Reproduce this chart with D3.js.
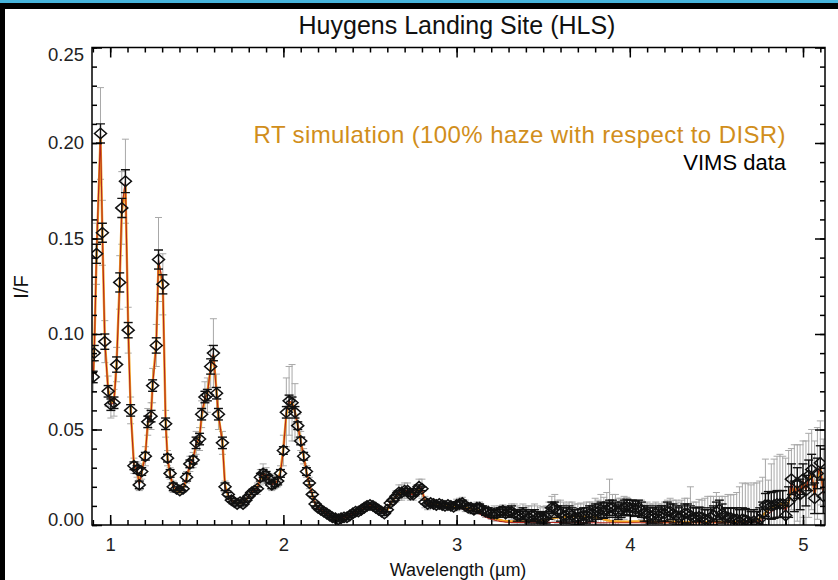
<!DOCTYPE html>
<html><head><meta charset="utf-8">
<script src="https://cdn.jsdelivr.net/npm/d3@7"></script>
<style>body{margin:0;background:#fff}svg{display:block}</style>
</head><body>
<svg id="chart" width="838" height="580"></svg>
<script>
// ---------------- DATA ----------------
const wavelength = [
0.902,0.908,0.921,0.944,0.955,0.969,0.988,1.004,1.022,1.037,
1.055,1.067,1.088,1.104,1.118,1.137,1.155,1.168,1.182,1.203,
1.217,1.236,1.245,1.266,1.279,1.304,1.320,1.331,1.346,1.364,
1.383,1.402,1.421,1.441,1.460,1.479,1.496,1.516,1.528,1.547,
1.561,1.580,1.596,1.614,1.625,1.648,1.663,1.682,
1.700,1.717,1.733,1.750,1.767,1.783,
1.800,1.817,1.833,1.850,1.867,1.883,
1.900,1.917,1.933,1.950,1.967,1.983,
2.000,2.017,2.033,2.050,2.067,2.083,
2.100,2.117,2.133,2.150,2.167,2.183,
2.200,2.217,2.233,2.250,2.267,2.283,
2.300,2.317,2.333,2.350,2.367,2.383,
2.400,2.417,2.433,2.450,2.467,2.483,
2.500,2.517,2.533,2.550,2.567,2.583,
2.600,2.617,2.633,2.650,2.667,2.683,
2.700,2.717,2.733,2.750,2.767,2.783,
2.800,2.817,2.833,2.850,2.867,2.883,
2.900,2.917,2.933,2.950,2.967,2.983,
3.000,3.017,3.033,3.050,3.067,3.083,
3.100,3.117,3.133,3.150,3.167,3.183,
3.200,3.217,3.233,3.250,3.267,3.283,
3.300,3.317,3.333,3.350,3.367,3.383,
3.400,3.417,3.433,3.450,3.467,3.483,
3.500,3.517,3.533,3.550,3.567,3.583,
3.600,3.617,3.633,3.650,3.667,3.683,
3.700,3.717,3.733,3.750,3.767,3.783,
3.800,3.817,3.833,3.850,3.867,3.883,
3.900,3.917,3.933,3.950,3.967,3.983,
4.000,4.017,4.033,4.050,4.067,4.083,
4.100,4.117,4.133,4.150,4.167,4.183,
4.200,4.217,4.233,4.250,4.267,4.283,
4.300,4.317,4.333,4.350,4.367,4.383,
4.400,4.417,4.433,4.450,4.467,4.483,
4.500,4.517,4.533,4.550,4.567,4.583,
4.600,4.617,4.633,4.650,4.667,4.683,
4.700,4.717,4.733,4.750,4.767,4.783,
4.800,4.817,4.833,4.850,4.867,4.883,
4.900,4.917,4.933,4.950,4.967,4.983,
5.000,5.017,5.033,5.050,5.067,5.083,
5.100,5.117
];

const vims = [
0.0775,0.090,0.142,0.205,0.153,0.096,0.070,0.063,0.064,0.084,
0.127,0.166,0.180,0.102,0.060,0.031,0.029,0.021,0.028,0.036,
0.054,0.057,0.073,0.094,0.139,0.126,0.053,0.035,0.027,0.020,
0.019,0.018,0.019,0.025,0.032,0.034,0.043,0.045,0.058,0.067,
0.068,0.083,0.090,0.069,0.058,0.043,0.020,0.016,
0.013,0.012,0.011,0.012,0.011,0.013,
0.015,0.017,0.018,0.019,0.025,0.027,
0.026,0.024,0.021,0.022,0.023,0.027,
0.039,0.059,0.065,0.064,0.059,0.052,
0.044,0.036,0.028,0.022,0.016,0.011,
0.009,0.008,0.007,0.006,0.005,0.004,
0.0035,0.003,0.0035,0.004,0.004,0.005,
0.006,0.007,0.007,0.008,0.009,0.010,
0.0105,0.010,0.009,0.008,0.007,0.006,
0.008,0.0115,0.013,0.015,0.017,0.017,
0.018,0.018,0.016,0.016,0.018,0.020,
0.019,0.012,0.011,0.0115,0.011,0.0105,
0.011,0.0105,0.010,0.0105,0.010,0.0095,
0.0105,0.011,0.0115,0.010,0.009,0.009,
0.008,0.009,0.009,0.008,0.007,0.007,
0.006,0.006,0.006,0.007,0.0075,0.006,
0.007,0.007,0.006,0.005,0.005,0.006,
0.005,0.004,0.005,0.005,0.004,0.004,
0.0037,0.004,0.006,0.009,0.009,0.007,
0.006,0.005,0.005,0.006,0.005,0.004,
0.004,0.0045,0.005,0.005,0.006,0.006,
0.007,0.007,0.008,0.0075,0.008,0.009,
0.009,0.008,0.007,0.008,0.009,0.0095,
0.009,0.009,0.0085,0.009,0.008,0.006,
0.006,0.005,0.005,0.006,0.005,0.006,
0.006,0.007,0.007,0.006,0.005,0.004,
0.005,0.006,0.006,0.005,0.004,0.004,
0.0044,0.004,0.003,0.003,0.004,0.005,
0.007,0.008,0.006,0.004,0.004,0.0037,
0.003,0.003,0.002,0.003,0.0026,0.002,
0.001,0.002,0.001,0.003,0.006,0.0105,
0.0105,0.010,0.0105,0.011,0.011,0.011,
0.005,0.012,0.024,0.015,0.022,0.016,
0.024,0.018,0.026,0.029,0.014,0.027,
0.0325,0.015
];

// large (grey) uncertainty of VIMS data
const errGray = [
0.008,0.010,0.016,0.024,0.017,0.011,0.008,0.007,0.007,0.009,
0.014,0.019,0.022,0.012,0.007,0.004,0.004,0.003,0.004,0.005,
0.007,0.007,0.009,0.011,0.022,0.016,0.007,0.004,0.003,0.003,
0.002,0.002,0.002,0.003,0.004,0.004,0.006,0.006,0.007,0.008,
0.009,0.011,0.018,0.010,0.008,0.006,0.003,0.002,
0.002,0.002,0.002,0.002,0.002,0.002,
0.002,0.002,0.002,0.003,0.004,0.005,
0.004,0.003,0.003,0.003,0.003,0.004,
0.008,0.018,0.018,0.020,0.015,0.006,
0.005,0.004,0.003,0.003,0.002,0.002,
0.002,0.002,0.002,0.002,0.002,0.002,
0.002,0.002,0.002,0.002,0.002,0.002,
0.002,0.002,0.002,0.002,0.002,0.002,
0.002,0.002,0.002,0.002,0.002,0.002,
0.002,0.002,0.002,0.003,0.004,0.004,
0.004,0.004,0.003,0.003,0.003,0.004,
0.005,0.003,0.003,0.002,0.002,0.002,
0.002,0.002,0.002,0.002,0.002,0.002,
0.003,0.003,0.003,0.003,0.002,0.002,
0.002,0.003,0.003,0.002,0.003,0.002,
0.003,0.004,0.003,0.003,0.003,0.004,
0.003,0.004,0.005,0.005,0.004,0.005,
0.005,0.006,0.005,0.006,0.006,0.005,
0.006,0.006,0.006,0.006,0.007,0.006,
0.007,0.007,0.006,0.006,0.007,0.007,
0.007,0.007,0.006,0.007,0.006,0.006,
0.007,0.006,0.008,0.007,0.009,0.015,
0.007,0.008,0.007,0.006,0.006,0.005,
0.004,0.004,0.004,0.003,0.005,0.005,
0.006,0.006,0.006,0.006,0.006,0.005,
0.006,0.006,0.007,0.007,0.008,0.008,
0.008,0.008,0.008,0.015,0.008,0.008,
0.009,0.009,0.011,0.012,0.011,0.010,
0.010,0.007,0.009,0.011,0.012,0.012,
0.013,0.014,0.018,0.019,0.019,0.020,
0.020,0.020,0.021,0.020,0.019,0.024,
0.013,0.022,0.024,0.025,0.026,0.025,
0.030,0.027,0.016,0.027,0.020,0.026,
0.020,0.026,0.022,0.021,0.030,0.024,
0.022,0.030
];

// small (black) uncertainty of VIMS data
const errBlack = [
0.003,0.004,0.005,0.005,0.005,0.004,0.003,0.003,0.003,0.004,
0.005,0.005,0.006,0.004,0.003,0.002,0.002,0.002,0.002,0.002,
0.003,0.003,0.003,0.004,0.005,0.005,0.003,0.002,0.002,0.002,
0.001,0.001,0.001,0.002,0.002,0.002,0.003,0.003,0.003,0.003,
0.003,0.004,0.004,0.003,0.003,0.003,0.002,0.001,
0.001,0.001,0.001,0.001,0.001,0.001,
0.001,0.001,0.001,0.001,0.002,0.002,
0.002,0.002,0.002,0.002,0.002,0.002,
0.002,0.003,0.003,0.003,0.003,0.002,
0.002,0.002,0.002,0.001,0.001,0.001,
0.001,0.001,0.001,0.001,0.001,0.001,
0.001,0.001,0.001,0.001,0.001,0.001,
0.001,0.001,0.001,0.001,0.001,0.001,
0.001,0.001,0.001,0.001,0.001,0.001,
0.001,0.001,0.001,0.001,0.001,0.001,
0.001,0.001,0.001,0.001,0.001,0.001,
0.001,0.001,0.001,0.001,0.001,0.001,
0.001,0.001,0.001,0.001,0.001,0.001,
0.0015,0.0015,0.0015,0.0015,0.0015,0.0015,
0.002,0.002,0.002,0.002,0.002,0.002,
0.002,0.002,0.002,0.002,0.002,0.002,
0.002,0.003,0.002,0.003,0.002,0.003,
0.003,0.003,0.003,0.003,0.003,0.003,
0.003,0.003,0.003,0.003,0.003,0.003,
0.004,0.004,0.004,0.004,0.004,0.004,
0.004,0.004,0.004,0.004,0.004,0.004,
0.004,0.004,0.004,0.004,0.004,0.004,
0.004,0.004,0.004,0.004,0.004,0.004,
0.004,0.004,0.004,0.004,0.004,0.004,
0.004,0.004,0.004,0.004,0.004,0.004,
0.004,0.005,0.004,0.005,0.005,0.005,
0.005,0.005,0.005,0.005,0.005,0.005,
0.005,0.005,0.005,0.005,0.005,0.005,
0.005,0.005,0.005,0.005,0.005,0.005,
0.006,0.006,0.006,0.006,0.006,0.006,
0.006,0.006,0.006,0.006,0.006,0.006,
0.007,0.007,0.007,0.007,0.007,0.007,
0.008,0.008,0.008,0.008,0.008,0.008,
0.008,0.008,0.008,0.008,0.008,0.008,
0.009,0.009
];

// RT simulation (100% haze with respect to DISR) - orange
const simRT = [
0.079,0.092,0.140,0.203,0.152,0.097,0.071,0.064,0.065,0.085,
0.128,0.164,0.178,0.104,0.061,0.032,0.028,0.022,0.028,0.037,
0.053,0.058,0.074,0.095,0.137,0.125,0.055,0.035,0.026,0.020,
0.018,0.017,0.019,0.024,0.031,0.035,0.042,0.046,0.057,0.066,
0.069,0.082,0.089,0.070,0.057,0.044,0.021,0.015,
0.013,0.012,0.0115,0.0115,0.0115,0.013,
0.015,0.017,0.018,0.020,0.024,0.027,
0.026,0.024,0.022,0.022,0.023,0.028,
0.040,0.058,0.064,0.064,0.059,0.052,
0.044,0.036,0.028,0.021,0.016,0.011,
0.009,0.008,0.007,0.006,0.005,0.004,
0.0035,0.0032,0.0034,0.0038,0.0042,0.0048,
0.0058,0.0066,0.0072,0.008,0.0088,0.0098,
0.0102,0.0098,0.009,0.008,0.007,0.0063,
0.0078,0.011,0.013,0.015,0.0165,0.017,
0.0175,0.0175,0.0165,0.016,0.0175,0.0195,
0.0185,0.0125,0.011,0.011,0.011,0.0105,
0.0105,0.0103,0.0101,0.0099,0.0097,0.0096,
0.0095,0.0093,0.0091,0.0089,0.0087,0.0086,
0.0085,0.0080,0.0072,0.0062,0.0053,0.0045,
0.0040,0.0035,0.0030,0.0026,0.0023,0.0021,
0.0020,0.0019,0.0018,0.0018,0.0018,0.0018,
0.0018,0.0019,0.0020,0.0021,0.0022,0.0024,
0.0025,0.0028,0.0031,0.0034,0.0037,0.0039,
0.0040,0.0042,0.0043,0.0044,0.0045,0.0045,
0.0045,0.0045,0.0044,0.0043,0.0042,0.0041,
0.0040,0.0037,0.0033,0.0029,0.0025,0.0022,
0.0020,0.0019,0.0018,0.0017,0.0017,0.0017,
0.0017,0.0018,0.0018,0.0019,0.0019,0.0018,
0.0018,0.0017,0.0017,0.0016,0.0016,0.0016,
0.0016,0.0016,0.0017,0.0017,0.0017,0.0016,
0.0016,0.0016,0.0015,0.0015,0.0015,0.0015,
0.0015,0.0015,0.0015,0.0016,0.0016,0.0016,
0.0016,0.0016,0.0016,0.0016,0.0016,0.0016,
0.0016,0.0016,0.0016,0.0017,0.0017,0.0017,
0.0017,0.0020,0.0025,0.0035,0.0050,0.0065,
0.0080,0.0090,0.0100,0.0105,0.0110,0.0110,
0.0090,0.0120,0.0200,0.0170,0.0200,0.0170,
0.0220,0.0190,0.0240,0.0260,0.0160,0.0250,
0.0300,0.0180
];

// second simulation curve (dark red)
const simRed = [
0.0775,0.090,0.142,0.205,0.153,0.096,0.070,0.063,0.064,0.084,
0.127,0.166,0.180,0.102,0.060,0.031,0.029,0.021,0.028,0.036,
0.054,0.057,0.073,0.094,0.139,0.126,0.053,0.035,0.027,0.020,
0.019,0.018,0.019,0.025,0.032,0.034,0.043,0.045,0.058,0.067,
0.068,0.083,0.090,0.069,0.058,0.043,0.020,0.016,
0.013,0.012,0.011,0.012,0.011,0.013,
0.015,0.017,0.018,0.019,0.025,0.027,
0.026,0.024,0.021,0.022,0.023,0.027,
0.039,0.059,0.065,0.064,0.059,0.052,
0.044,0.036,0.028,0.022,0.016,0.011,
0.009,0.008,0.007,0.006,0.005,0.004,
0.0035,0.003,0.0035,0.004,0.004,0.005,
0.006,0.007,0.007,0.008,0.009,0.010,
0.0105,0.010,0.009,0.008,0.007,0.006,
0.008,0.0115,0.013,0.015,0.017,0.017,
0.018,0.018,0.016,0.016,0.018,0.020,
0.0190,0.0120,0.0110,0.0110,0.0105,0.0100,
0.0100,0.0100,0.0095,0.0095,0.0090,0.0090,
0.0090,0.0088,0.0085,0.0082,0.0080,0.0076,
0.0072,0.0066,0.0058,0.0050,0.0042,0.0035,
0.0030,0.0026,0.0022,0.0019,0.0017,0.0015,
0.0014,0.0013,0.0013,0.0013,0.0013,0.0013,
0.0013,0.0013,0.0012,0.0012,0.0013,0.0013,
0.0013,0.0014,0.0014,0.0013,0.0013,0.0013,
0.0013,0.0013,0.0012,0.0012,0.0012,0.0013,
0.0013,0.0013,0.0013,0.0013,0.0012,0.0012,
0.0012,0.0012,0.0012,0.0012,0.0012,0.0012,
0.0012,0.0012,0.0012,0.0012,0.0012,0.0012,
0.0012,0.0012,0.0012,0.0012,0.0012,0.0012,
0.0012,0.0012,0.0012,0.0012,0.0012,0.0012,
0.0012,0.0012,0.0012,0.0012,0.0012,0.0012,
0.0012,0.0012,0.0012,0.0012,0.0012,0.0012,
0.0012,0.0012,0.0012,0.0012,0.0012,0.0012,
0.0012,0.0012,0.0012,0.0012,0.0012,0.0012,
0.0012,0.0012,0.0012,0.0013,0.0013,0.0013,
0.0013,0.0014,0.0016,0.0020,0.0030,0.0045,
0.0060,0.0070,0.0080,0.0090,0.0100,0.0105,
0.0070,0.0120,0.0230,0.0150,0.0210,0.0160,
0.0230,0.0180,0.0250,0.0280,0.0150,0.0260,
0.0310,0.0160
];

const xTicks = [1, 2, 3, 4, 5];
const xTickLabels = ["1", "2", "3", "4", "5"];
const yTicks = [0, 0.05, 0.10, 0.15, 0.20, 0.25];
const yTickLabels = ["0.00", "0.05", "0.10", "0.15", "0.20", "0.25"];
const titleText = "Huygens Landing Site (HLS)";
const legendSim = "RT simulation (100% haze with respect to DISR)";
const legendData = "VIMS data";
const xLabel = "Wavelength (\u00b5m)";
const yLabel = "I/F";

// ---------------- CHART ----------------
const W = 838, H = 580;
const M = {left: 92, right: 825, top: 47.5, bottom: 525};
const FONT = "'Liberation Sans', Arial, Helvetica, sans-serif";
const svg = d3.select("#chart");

svg.append("rect").attr("width", W).attr("height", H).attr("fill", "#fff");
// screenshot frame
svg.append("rect").attr("x", 0).attr("y", 0).attr("width", W).attr("height", 3).attr("fill", "#46b4dc");
svg.append("rect").attr("x", 0).attr("y", 3).attr("width", W).attr("height", 6).attr("fill", "#000");
svg.append("rect").attr("x", 0).attr("y", 3).attr("width", 5).attr("height", H - 3).attr("fill", "#000");

const x = d3.scaleLinear().domain([0.895, 5.127]).range([M.left, M.right]);
const y = d3.scaleLinear().domain([0, 0.25]).range([M.bottom, M.top]);

const data = wavelength.map((w, i) => ({
  w, v: vims[i], eg: errGray[i], eb: errBlack[i], s: simRT[i], r: simRed[i]
}));

svg.append("defs").append("clipPath").attr("id", "plotclip")
  .append("rect").attr("x", M.left).attr("y", M.top)
  .attr("width", M.right - M.left).attr("height", M.bottom - M.top);

const plot = svg.append("g").attr("clip-path", "url(#plotclip)");

function errorBars(g, key, color, width, cap) {
  const sel = g.selectAll("g." + key).data(data).join("g").attr("class", key)
    .attr("stroke", color).attr("stroke-width", width).attr("fill", "none");
  sel.append("line")
    .attr("x1", d => x(d.w)).attr("x2", d => x(d.w))
    .attr("y1", d => y(d.v - d[key])).attr("y2", d => y(d.v + d[key]));
  sel.append("line")
    .attr("x1", d => x(d.w) - cap).attr("x2", d => x(d.w) + cap)
    .attr("y1", d => y(d.v + d[key])).attr("y2", d => y(d.v + d[key]));
  sel.append("line")
    .attr("x1", d => x(d.w) - cap).attr("x2", d => x(d.w) + cap)
    .attr("y1", d => y(d.v - d[key])).attr("y2", d => y(d.v - d[key]));
}

errorBars(plot, "eg", "#a8a8a8", 1, 3.5);

const lineSim = d3.line().x(d => x(d.w)).y(d => y(d.s));
const lineRed = d3.line().x(d => x(d.w)).y(d => y(d.r));
plot.append("path").datum(data).attr("d", lineSim)
  .attr("fill", "none").attr("stroke", "#f0a020").attr("stroke-width", 2.4);
plot.append("path").datum(data).attr("d", lineRed)
  .attr("fill", "none").attr("stroke", "#b3261e").attr("stroke-width", 1.1);

errorBars(plot, "eb", "#111", 1.4, 4.5);

plot.selectAll("path.dia").data(data).join("path").attr("class", "dia")
  .attr("d", d => {
    const cx = x(d.w), cy = y(d.v), hw = 6, hh = 5.2;
    return `M${cx - hw},${cy}L${cx},${cy - hh}L${cx + hw},${cy}L${cx},${cy + hh}Z`;
  })
  .attr("fill", "none").attr("stroke", "#111").attr("stroke-width", 1.5);

// axes & ticks
const xMinor = d3.range(0.9, 5.13, 0.1);
const yMinor = d3.range(0, 0.2501, 0.01);
function styleAxis(g) {
  g.select(".domain").remove();
  g.selectAll(".tick line").attr("stroke", "#000").attr("stroke-width", 1.5);
  g.selectAll(".tick text").attr("fill", "#222").style("font-family", FONT);
}
// bottom
svg.append("g").attr("transform", `translate(0,${M.bottom})`)
  .call(d3.axisBottom(x).tickValues(xMinor).tickSize(-5).tickFormat(""))
  .call(styleAxis);
svg.append("g").attr("transform", `translate(0,${M.bottom})`)
  .call(d3.axisBottom(x).tickValues(xTicks).tickSize(-10).tickPadding(13)
    .tickFormat((d, i) => xTickLabels[i]))
  .call(styleAxis)
  .call(g => g.selectAll(".tick text").style("font-size", "18.5px"));
// top
svg.append("g").attr("transform", `translate(0,${M.top})`)
  .call(d3.axisTop(x).tickValues(xMinor).tickSize(-5).tickFormat("")).call(styleAxis);
svg.append("g").attr("transform", `translate(0,${M.top})`)
  .call(d3.axisTop(x).tickValues(xTicks).tickSize(-10).tickFormat("")).call(styleAxis);
// left
svg.append("g").attr("transform", `translate(${M.left},0)`)
  .call(d3.axisLeft(y).tickValues(yMinor).tickSize(-5).tickFormat("")).call(styleAxis);
svg.append("g").attr("transform", `translate(${M.left},0)`)
  .call(d3.axisLeft(y).tickValues(yTicks).tickSize(-10).tickPadding(8)
    .tickFormat((d, i) => yTickLabels[i]))
  .call(styleAxis)
  .call(g => g.selectAll(".tick text").style("font-size", "18.5px")
    .attr("dy", (d, i) => i === 0 ? "0.02em" : (i === yTicks.length - 1 ? "0.68em" : "0.32em")));
// right
svg.append("g").attr("transform", `translate(${M.right},0)`)
  .call(d3.axisRight(y).tickValues(yMinor).tickSize(-5).tickFormat("")).call(styleAxis);
svg.append("g").attr("transform", `translate(${M.right},0)`)
  .call(d3.axisRight(y).tickValues(yTicks).tickSize(-10).tickFormat("")).call(styleAxis);

// frame
svg.append("rect").attr("x", M.left).attr("y", M.top)
  .attr("width", M.right - M.left).attr("height", M.bottom - M.top)
  .attr("fill", "none").attr("stroke", "#000").attr("stroke-width", 1.5);

// texts
svg.append("text").attr("x", 457).attr("y", 34).attr("text-anchor", "middle")
  .style("font-family", FONT).style("font-size", "25px").attr("fill", "#111").text(titleText);
svg.append("text").attr("x", 786).attr("y", 143).attr("text-anchor", "end")
  .style("font-family", FONT).style("font-size", "24px").style("letter-spacing", "0.4px")
  .attr("fill", "#d18e1b").text(legendSim);
svg.append("text").attr("x", 786).attr("y", 170).attr("text-anchor", "end")
  .style("font-family", FONT).style("font-size", "22px").attr("fill", "#000").text(legendData);
svg.append("text").attr("x", 458).attr("y", 576).attr("text-anchor", "middle")
  .style("font-family", FONT).style("font-size", "18px").attr("fill", "#111").text(xLabel);
svg.append("text").attr("transform", "translate(28,287) rotate(-90)").attr("text-anchor", "middle")
  .style("font-family", FONT).style("font-size", "20px").attr("fill", "#111").text(yLabel);
</script>
</body></html>
